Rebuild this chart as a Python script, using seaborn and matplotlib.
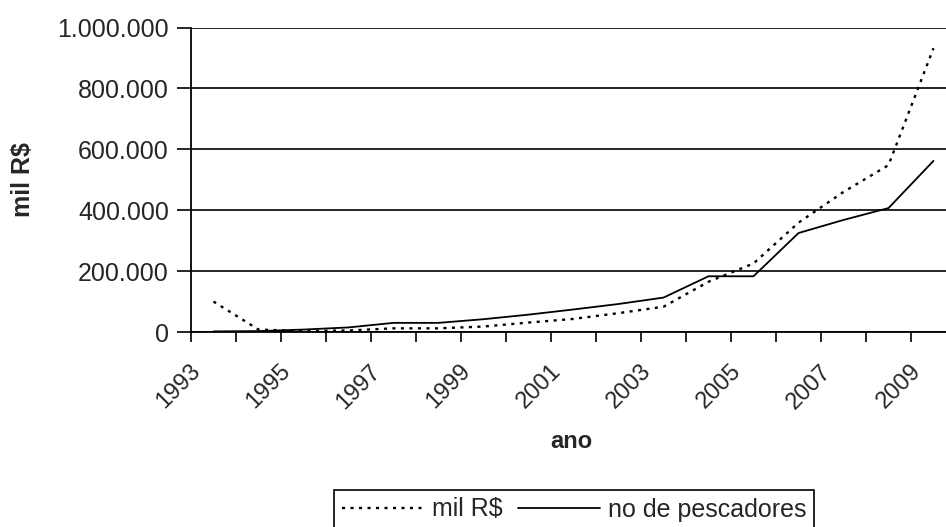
import numpy as np
import pandas as pd
import matplotlib
matplotlib.use("Agg")
import matplotlib.pyplot as plt
import matplotlib.transforms as mtransforms
from matplotlib.ticker import FuncFormatter
import seaborn as sns

anos = list(range(1993, 2010))
mil_rs = [100000, 8000, 3000, 5000, 12000, 12000, 18000, 31000, 43000,
          62000, 83000, 165000, 225000, 359000, 460000, 548000, 932000]
pescadores = [2000, 3000, 8000, 15000, 30000, 30000, 42000, 57000, 74000,
              92000, 113000, 183000, 183000, 325000, 368000, 407000, 562000]
anos_rotulo = list(range(1993, 2010, 2))
y_ticks = [0, 200000, 400000, 600000, 800000, 1000000]

df = pd.DataFrame({"ano": anos, "mil R$": mil_rs, "no de pescadores": pescadores})

sns.set_theme(style="white")
plt.rcParams["font.family"] = ["Liberation Sans", "DejaVu Sans"]

fig = plt.figure(figsize=(9.46, 5.27), dpi=100)
ax = fig.add_axes([191 / 946, 1 - 332 / 527, 765 / 946, (332 - 27.5) / 527])

sns.lineplot(data=df, x="ano", y="mil R$", color="black", lw=1.7,
             linestyle=(0, (1.3, 2.3)), ax=ax, label="mil R$")
sns.lineplot(data=df, x="ano", y="no de pescadores", color="black", lw=1.3,
             linestyle="-", ax=ax, label="no de pescadores")

ax.set_xlim(1992.5, 2009.5)
ax.set_ylim(0, 1000000)
ax.set_yticks(y_ticks)
ax.yaxis.set_major_formatter(FuncFormatter(lambda v, p: f"{v:,.0f}".replace(",", ".")))
ax.grid(axis="y", color="black", lw=1.2)
ax.grid(axis="x", visible=False)
ax.tick_params(axis="y", which="major", left=True, length=10, width=1.2,
               color="black", labelsize=18, pad=6)

ax.set_xticks(anos_rotulo)
ax.set_xticklabels([str(a) for a in anos_rotulo])
ax.set_xticks(np.arange(1992.5, 2010, 1), minor=True)
ax.tick_params(axis="x", which="major", length=0, labelsize=17, pad=26)
ax.tick_params(axis="x", which="minor", bottom=True, length=7, width=1.2,
               color="black", direction="out")
offset = mtransforms.ScaledTranslation(-16 / 100, 0, fig.dpi_scale_trans)
for lbl in ax.get_xticklabels():
    lbl.set_rotation(45)
    lbl.set_rotation_mode("anchor")
    lbl.set_ha("right")
    lbl.set_va("center")
    lbl.set_transform(lbl.get_transform() + offset)

for s in ["top", "right"]:
    ax.spines[s].set_visible(False)
for s in ["left", "bottom"]:
    ax.spines[s].set_color("black")
    ax.spines[s].set_linewidth(1.3)

ax.set_xlabel("")
ax.set_ylabel("")
fig.text(23 / 946, 1 - 180 / 527, "mil R$", rotation=90, fontsize=18,
         fontweight="bold", ha="center", va="center")
fig.text(571 / 946, 1 - 441 / 527, "ano", fontsize=17, fontweight="bold",
         ha="center", va="center")

handles, labels = ax.get_legend_handles_labels()
ax.get_legend().remove()
leg = fig.legend(handles, labels, loc="upper center",
                 bbox_to_anchor=(574 / 946, 1 - 490 / 527), ncol=2,
                 frameon=True, fancybox=False, edgecolor="black", framealpha=1,
                 fontsize=18, handlelength=3.3, columnspacing=0.6,
                 handletextpad=0.3, borderpad=0.3, borderaxespad=0)
leg.get_frame().set_linewidth(1.2)

fig.savefig("out.png", dpi=100)
